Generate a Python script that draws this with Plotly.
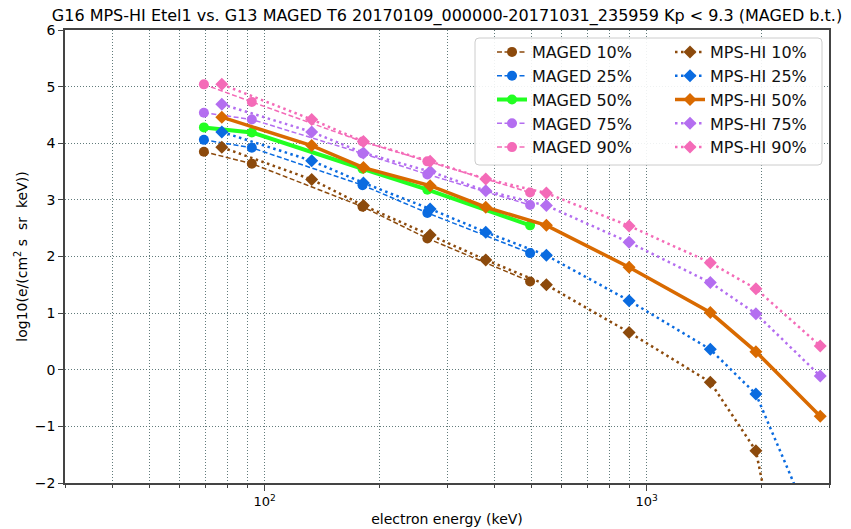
import plotly.graph_objects as go
import math

# ---------------- data ----------------
maged_energy = [69.3, 92.5, 180.3, 266.5, 495.0]
mpshi_energy = [77.2, 132.7, 181.3, 271.0, 379.0, 546.0, 899.0, 1467.0, 1931.0, 2846.0]

maged_10 = [3.85, 3.64, 2.88, 2.32, 1.56]
maged_25 = [4.06, 3.92, 3.26, 2.77, 2.06]
maged_50 = [4.28, 4.19, 3.55, 3.18, 2.55]
maged_75 = [4.54, 4.42, 3.82, 3.45, 2.91]
maged_90 = [5.04, 4.73, 4.03, 3.68, 3.13]

mpshi_10 = [3.93, 3.36, 2.90, 2.38, 1.94, 1.50, 0.66, -0.22, -1.43, -7.1]
mpshi_25 = [4.20, 3.69, 3.30, 2.84, 2.43, 2.02, 1.22, 0.36, -0.43, -3.1]
mpshi_50 = [4.46, 3.96, 3.57, 3.25, 2.87, 2.55, 1.81, 1.01, 0.32, -0.82]
mpshi_75 = [4.69, 4.20, 3.83, 3.50, 3.16, 2.90, 2.25, 1.54, 0.99, -0.11]
mpshi_90 = [5.04, 4.42, 4.03, 3.68, 3.37, 3.12, 2.54, 1.89, 1.43, 0.42]

percentiles = ["10%", "25%", "50%", "75%", "90%"]
maged_series = [maged_10, maged_25, maged_50, maged_75, maged_90]
mpshi_series = [mpshi_10, mpshi_25, mpshi_50, mpshi_75, mpshi_90]

x_major_ticks = [100, 1000]
x_major_text = ["10<sup>2</sup>", "10<sup>3</sup>"]
x_minor_ticks = [30, 40, 50, 60, 70, 80, 90, 200, 300, 400, 500, 600, 700, 800, 900, 2000, 3000]

title = "G16 MPS-HI Etel1 vs. G13 MAGED T6 20170109_000000-20171031_235959 Kp < 9.3 (MAGED b.t.)"

# ---------------- styles ----------------
maged_colors = ["#8c4a0c", "#0a6be0", "#22ff22", "#b46ef0", "#f46bb8"]
mpshi_colors = ["#8c4a0c", "#0a6be0", "#d96a00", "#b46ef0", "#f46bb8"]
FONT = "DejaVu Sans"

fig = go.Figure()

for p, vals, col in zip(percentiles, maged_series, maged_colors):
    thick = p == "50%"
    fig.add_trace(go.Scatter(
        x=maged_energy, y=vals, mode="lines+markers", name="MAGED " + p,
        line=dict(color=col, width=4 if thick else 1.5, dash="solid" if thick else "5px,2.5px"),
        marker=dict(symbol="circle", size=10, color=col),
        legend="legend",
    ))

for p, vals, col in zip(percentiles, mpshi_series, mpshi_colors):
    thick = p == "50%"
    fig.add_trace(go.Scatter(
        x=mpshi_energy, y=vals, mode="lines+markers", name="MPS-HI " + p,
        line=dict(color=col, width=3.5 if thick else 2.5, dash="solid" if thick else "2.5px,3.5px"),
        marker=dict(symbol="diamond", size=10, color=col),
        legend="legend2",
    ))

# legend frame (one box around both legend columns)
L, R, T, B = 65, 829, 30, 483
W, H = R - L, B - T
bx0, bx1, by0, by1 = 475, 822, 38, 165
px = lambda v: (v - L) / W
py = lambda v: (B - v) / H
rx, ry = 4 / W, 4 / H
x0, x1, y0, y1 = px(bx0), px(bx1), py(by1), py(by0)
path = (f"M{x0+rx},{y0} L{x1-rx},{y0} Q{x1},{y0} {x1},{y0+ry} L{x1},{y1-ry} "
        f"Q{x1},{y1} {x1-rx},{y1} L{x0+rx},{y1} Q{x0},{y1} {x0},{y1-ry} "
        f"L{x0},{y0+ry} Q{x0},{y0} {x0+rx},{y0} Z")
fig.add_shape(type="path", path=path, xref="paper", yref="paper",
              line=dict(color="#cccccc", width=1), fillcolor="rgba(255,255,255,0.9)",
              layer="above")

grid_col = "rgba(70,100,100,0.85)"
axis_col = "#444444"

fig.update_layout(
    width=851, height=529,
    margin=dict(l=L, r=851 - R, t=T, b=529 - B, autoexpand=False),
    paper_bgcolor="white", plot_bgcolor="white",
    font=dict(family=FONT, color="black", size=13),
    title=dict(text=title, x=0.5, xref="paper", xanchor="center", y=1 - 15 / 529, yanchor="middle",
               font=dict(size=16, family=FONT, color="black")),
    showlegend=True,
    legend=dict(x=px(492), y=py(35), xanchor="left", yanchor="top", bgcolor="rgba(0,0,0,0)",
                borderwidth=0, font=dict(size=16, family=FONT, color="#111111"), tracegroupgap=0),
    legend2=dict(x=px(670), y=py(35), xanchor="left", yanchor="top", bgcolor="rgba(0,0,0,0)",
                 borderwidth=0, font=dict(size=16, family=FONT, color="#111111"), tracegroupgap=0),
    xaxis=dict(
        type="log", range=[math.log10(30), math.log10(3000)], automargin=False,
        tickmode="array", tickvals=x_major_ticks, ticktext=x_major_text,
        ticks="outside", ticklen=6, tickwidth=1.2, tickcolor=axis_col,
        showline=True, linecolor=axis_col, linewidth=1.5, mirror=True,
        showgrid=True, gridcolor=grid_col, gridwidth=1, griddash="1px,2px",
        minor=dict(tickmode="array", tickvals=x_minor_ticks, ticks="outside", ticklen=3.5,
                   tickcolor=axis_col, showgrid=True, gridcolor=grid_col, gridwidth=1, griddash="1px,2px"),
        title=dict(text="electron energy (keV)", font=dict(size=14, family=FONT), standoff=6),
        tickfont=dict(size=13, family=FONT),
        zeroline=False,
    ),
    yaxis=dict(
        range=[-2, 6], tickmode="array", tickvals=[-2, -1, 0, 1, 2, 3, 4, 5, 6], automargin=False,
        ticks="outside", ticklen=5, tickwidth=1.2, tickcolor=axis_col,
        showline=True, linecolor=axis_col, linewidth=1.5, mirror=True,
        showgrid=True, gridcolor=grid_col, gridwidth=1, griddash="1px,2px",
        title=dict(text="log10(e/(cm<sup>2</sup> s  sr  keV))", font=dict(size=14, family=FONT), standoff=4),
        tickfont=dict(size=14, family=FONT),
        zeroline=False,
    ),
)

fig.write_html("out.html")
